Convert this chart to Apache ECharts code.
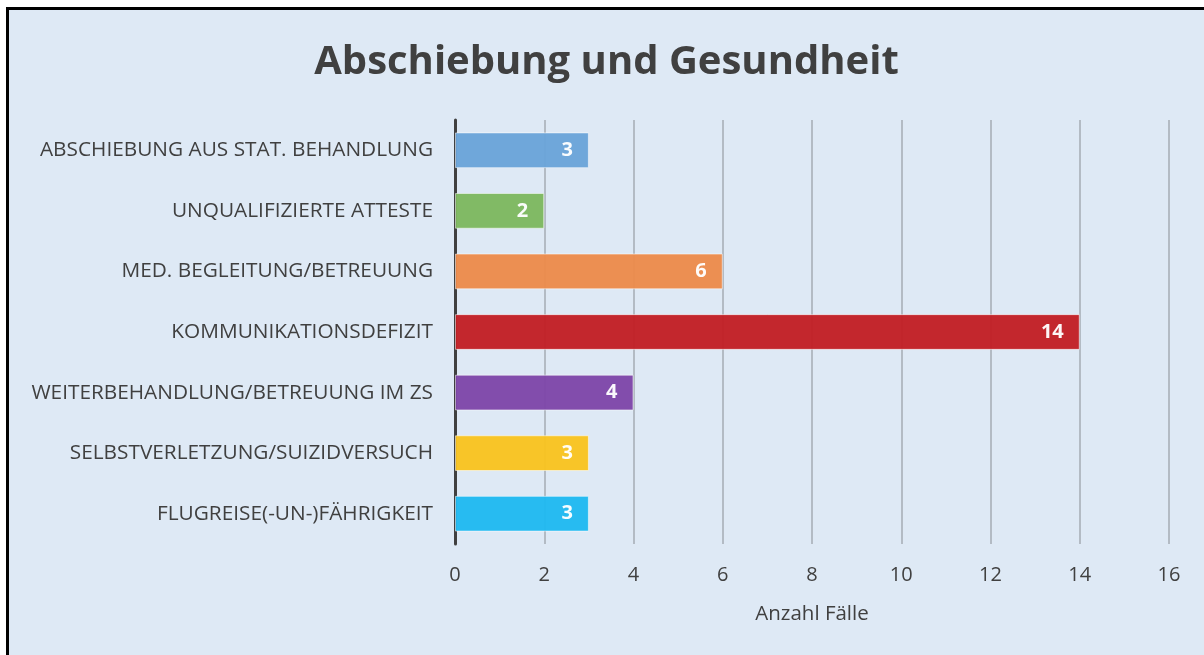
<!DOCTYPE html>
<html>
<head>
<meta charset="utf-8">
<script src="https://cdn.jsdelivr.net/npm/echarts@6/dist/echarts.min.js"></script>
<style>
  html, body { margin: 0; padding: 0; background: #fff; }
  .frame {
    position: absolute; left: 6px; top: 7px;
    border-left: 3px solid #000; border-top: 3px solid #000;
  }
  #main { width: 1195px; height: 645px; }
</style>
</head>
<body>
<div class="frame"><div id="main"></div></div>
<script>
  // Kategorien und Werte (Anzahl Fälle)
  const categories = [
    'ABSCHIEBUNG AUS STAT. BEHANDLUNG',
    'UNQUALIFIZIERTE ATTESTE',
    'MED. BEGLEITUNG/BETREUUNG',
    'KOMMUNIKATIONSDEFIZIT',
    'WEITERBEHANDLUNG/BETREUUNG IM ZS',
    'SELBSTVERLETZUNG/SUIZIDVERSUCH',
    'FLUGREISE(-UN-)FÄHRIGKEIT'
  ];
  const values = [3, 2, 6, 14, 4, 3, 3];
  const barColors = ['#6aa3d9', '#7db75f', '#ec8a4b', '#c21e24', '#7e46a9', '#f9c31f', '#1fb8f0'];

  const font = '"Open Sans", "Noto Sans", sans-serif';
  const myChart = echarts.init(document.getElementById('main'));

  let option = {
    backgroundColor: '#dee9f5',
    title: {
      text: 'Abschiebung und Gesundheit',
      left: 'center',
      top: 28,
      textStyle: { fontFamily: font, fontSize: 40, fontWeight: 'bold', color: '#404040' }
    },
    grid: { left: 446, right: 35, top: 110, bottom: 111 },
    xAxis: {
      type: 'value',
      min: 0,
      max: 16,
      interval: 2,
      name: 'Anzahl Fälle',
      nameLocation: 'middle',
      nameGap: 60,
      nameTextStyle: { fontFamily: font, fontSize: 20.5, color: '#404040' },
      axisLine: { show: false },
      axisTick: { show: false },
      axisLabel: { margin: 21, fontFamily: font, fontSize: 20, color: '#404040' },
      splitLine: { show: true, lineStyle: { color: '#a4abb3', width: 1.5 } }
    },
    yAxis: {
      type: 'category',
      inverse: true,
      data: categories,
      axisLine: { show: true, lineStyle: { color: '#404040', width: 3 } },
      axisTick: { show: false },
      axisLabel: { margin: 22, fontFamily: font, fontSize: 20.8, color: '#404040' }
    },
    series: [{
      type: 'bar',
      barCategoryGap: '41%',
      data: values.map((v, i) => ({
        value: v,
        itemStyle: { color: barColors[i], opacity: 0.96 }
      })),
      itemStyle: { borderColor: 'rgba(255,255,255,0.55)', borderWidth: 1 },
      label: {
        show: true,
        position: 'insideRight',
        distance: 16,
        fontFamily: font,
        fontSize: 20,
        fontWeight: 'bold',
        color: '#fff'
      }
    }]
  };
  // Optionen anwenden
  myChart.setOption(option);
</script>
</body>
</html>
